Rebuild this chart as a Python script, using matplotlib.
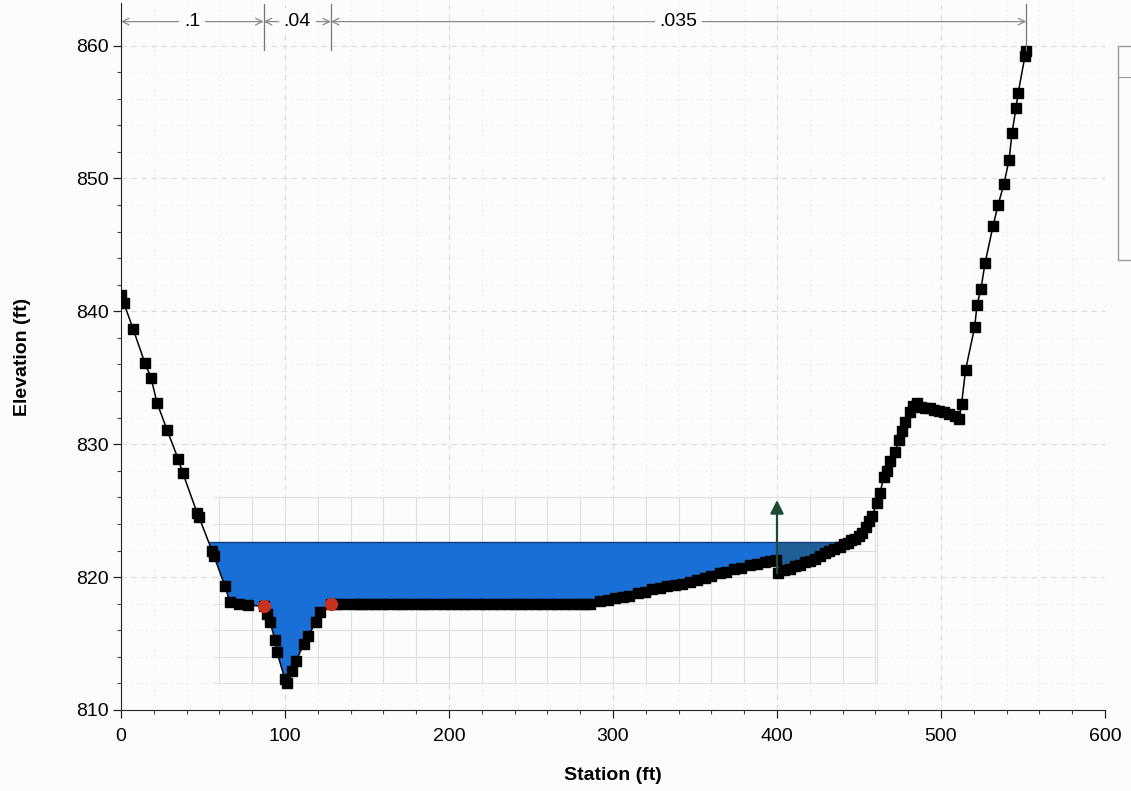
import numpy as np
import matplotlib
matplotlib.use("Agg")
import matplotlib.pyplot as plt
from matplotlib.patches import Rectangle
from matplotlib.lines import Line2D

plt.rcParams['font.family'] = ['Liberation Sans', 'DejaVu Sans']

# Ground profile (station ft, elevation ft)
station = [0, 1.8, 7.3, 14.6, 18.3, 22, 28, 34.8, 37.8, 46.5, 47.6, 55.5, 56.7, 63.4, 66.5,
           72, 77.4, 87, 89, 90.9, 93.9, 95, 100, 101, 104, 106.7, 111.6, 114, 119, 121.3, 128,
           131, 135, 141, 145, 147, 151, 155, 159, 163, 168, 171, 175, 180, 184, 187, 192, 197,
           201, 205, 209, 213, 218, 222, 227, 231, 236, 240, 244, 248, 253, 257, 262, 266, 271,
           275, 280, 283,
           286, 292, 297, 301, 306, 310, 315, 319.5, 324, 328.7, 333, 337.8, 342, 347, 351, 356,
           360, 365, 369, 374, 378, 383.5, 388, 392.7, 396, 399.5, 400.5, 404, 408, 411, 414,
           417, 420, 423, 426, 429, 432, 435, 438.4, 441, 443, 445, 447.6, 450, 451.8, 454, 456,
           458, 461, 462.8, 465, 467, 469, 472, 474.4, 476, 478, 481, 483, 485.4, 488, 490, 493,
           496, 499, 502, 505, 508.5, 511, 512.5, 515, 520.5, 522, 524.4, 526.8, 531.7, 534.8,
           538.4, 541.5, 543.3, 545.7, 547, 551.2, 551.8]
elevation = [841.2, 840.6, 838.7, 836.1, 835.0, 833.1, 831.1, 828.9, 827.8, 824.8, 824.5, 822.0,
             821.6, 819.3, 818.1, 818.0, 817.9, 817.8, 817.2, 816.6, 815.3, 814.4, 812.3, 812.0,
             812.9, 813.7, 815.0, 815.6, 816.6, 817.4, 818.0,
             818.0, 818.0, 818.0, 818.0, 818.0, 818.0, 818.0, 818.0, 818.0, 818.0, 818.0, 818.0,
             818.0, 818.0, 818.0, 818.0, 818.0, 818.0, 818.0, 818.0, 818.0, 818.0, 818.0, 818.0,
             818.0, 818.0, 818.0, 818.0, 818.0, 818.0, 818.0, 818.0, 818.0, 818.0, 818.0, 818.0,
             818.0,
             818.0, 818.2, 818.3, 818.4, 818.5, 818.6, 818.8, 818.9, 819.1, 819.2, 819.3, 819.4,
             819.5, 819.6, 819.8, 819.9, 820.1, 820.3, 820.4, 820.6, 820.7, 820.9, 821.0, 821.1,
             821.2, 821.3, 820.3, 820.5, 820.6, 820.8, 820.9, 821.1, 821.2, 821.4, 821.6, 821.8,
             822.0, 822.1, 822.3, 822.5, 822.6, 822.8, 822.9, 823.1, 823.3, 823.8, 824.2, 824.6,
             825.6, 826.3, 827.5, 828.0, 828.7, 829.4, 830.3, 831.0, 831.7, 832.4, 832.9, 833.1,
             832.8, 832.7, 832.7, 832.6, 832.5, 832.4, 832.3, 832.1, 831.9, 833.0, 835.6, 838.8,
             840.5, 841.7, 843.6, 846.4, 848.0, 849.6, 851.4, 853.4, 855.3, 856.4, 859.2, 859.6]

water_surface = 822.65
bank_station = [87, 128]
bank_elev = [817.8, 818.0]
ineffective_station = 400
ineffective_top = 825.8
ineffective_ground = 820.3
n_breaks = [0, 87, 128, 552]
n_values = [".1", ".04", ".035"]

x = np.array(station)
z = np.array(elevation)

fig = plt.figure(figsize=(11.31, 7.91), dpi=100, facecolor='#fcfcfc')
ax = fig.add_axes([121/1131, 1-710/791, (1105-121)/1131, (710-3)/791])
ax.set_facecolor('#fcfcfc')
ax.set_xlim(0, 600)
ax.set_ylim(810, 863.2)

# grid
ax.set_xticks(np.arange(0, 601, 100))
ax.set_yticks(np.arange(810, 861, 10))
ax.set_xticks(np.arange(0, 601, 20), minor=True)
ax.set_yticks(np.arange(810, 861, 2), minor=True)
ax.grid(True, which='major', color='#dadada', lw=0.8, ls=(0, (5, 4)))
ax.grid(True, which='minor', color='#e4e4e4', lw=0.6, ls=(0, (1, 5)))
ax.set_axisbelow(True)

# local computation grid in wetted region
gx0, gx1, gy0, gy1 = 57, 461, 812, 826
for gx in np.arange(60, 461, 20):
    ax.plot([gx, gx], [gy0, gy1], color='#e0e0e0', lw=0.8, zorder=1)
ax.plot([gx1, gx1], [gy0, gy1], color='#e0e0e0', lw=0.8, zorder=1)
for gy in np.arange(gy0, gy1 + 1, 2):
    ax.plot([gx0, gx1], [gy, gy], color='#e0e0e0', lw=0.8, zorder=1)

# water fill
ws = np.full_like(z, water_surface)
ax.fill_between(x, z, ws, where=(z < ws) & (x <= ineffective_station + 0.5),
                interpolate=True, color='#1a6fd6', lw=0, zorder=2)
ax.fill_between(x, z, ws, where=(z < ws) & (x >= ineffective_station + 0.5),
                interpolate=True, color='#1f5f98', lw=0, zorder=2)
# water surface line between crossings
wet = np.where(z < water_surface)[0]
i0, i1 = wet[0], wet[-1]
xl = np.interp(water_surface, [z[i0], z[i0-1]], [x[i0], x[i0-1]])
xr = np.interp(water_surface, [z[i1], z[i1+1]], [x[i1], x[i1+1]])
ax.plot([xl, xr], [water_surface, water_surface], color='#123d7a', lw=1.0, zorder=3)

# ground
ax.plot(x, z, color='black', lw=1.1, marker='s', ms=7, mfc='black', mec='black', zorder=4)
ax.plot(bank_station, bank_elev, 'o', color='#c8321e', ms=8.5, zorder=5)

# ineffective arrow
ax.annotate('', xy=(ineffective_station, ineffective_top),
            xytext=(ineffective_station, ineffective_ground),
            arrowprops=dict(arrowstyle='-|>', color='#1d4a33', lw=1.6, mutation_scale=20,
                            shrinkA=0, shrinkB=0), zorder=6)

# Manning's n annotations
ny = 861.8
for a, b, lab in zip(n_breaks[:-1], n_breaks[1:], n_values):
    ax.annotate('', xy=(a, ny), xytext=(b, ny),
                arrowprops=dict(arrowstyle='<->', color='#8a8a8a', lw=0.9,
                                mutation_scale=12, shrinkA=0, shrinkB=0),
                annotation_clip=False)
    ax.text((a + b) / 2, ny, lab, ha='center', va='center', fontsize=14,
            bbox=dict(boxstyle='square,pad=0.25', fc='#fcfcfc', ec='none'), zorder=7)
for b in n_breaks[1:]:
    ax.plot([b, b], [859.7, 863.1], color='#777777', lw=0.9, clip_on=False, zorder=6)

# spines/ticks
for s in ['top', 'right']:
    ax.spines[s].set_visible(False)
ax.spines['left'].set_color('#222222')
ax.spines['bottom'].set_color('#222222')
ax.tick_params(which='major', direction='out', length=6, width=0.9, labelsize=14, colors='#222222')
ax.tick_params(which='minor', direction='out', length=3, width=0.8, colors='#444444')
ax.tick_params(axis='x', which='major', pad=7)
ax.tick_params(axis='y', which='major', pad=3)
ax.tick_params(labelcolor='black')

ax.set_xlabel('Station (ft)', fontsize=14, fontweight='bold', labelpad=16)
ax.set_ylabel('Elevation (ft)', fontsize=14, fontweight='bold', labelpad=32)

# partial legend box at right edge
fig.patches.append(Rectangle((1118/1131, 1-260/791), 0.05, (260-46)/791,
                             transform=fig.transFigure, fill=False, ec='#999999', lw=1.0))
fig.lines.append(Line2D([1118/1131, 1.0], [1-77/791, 1-77/791], transform=fig.transFigure,
                        color='#999999', lw=0.8))

fig.savefig('out.png', dpi=100, facecolor=fig.get_facecolor())
